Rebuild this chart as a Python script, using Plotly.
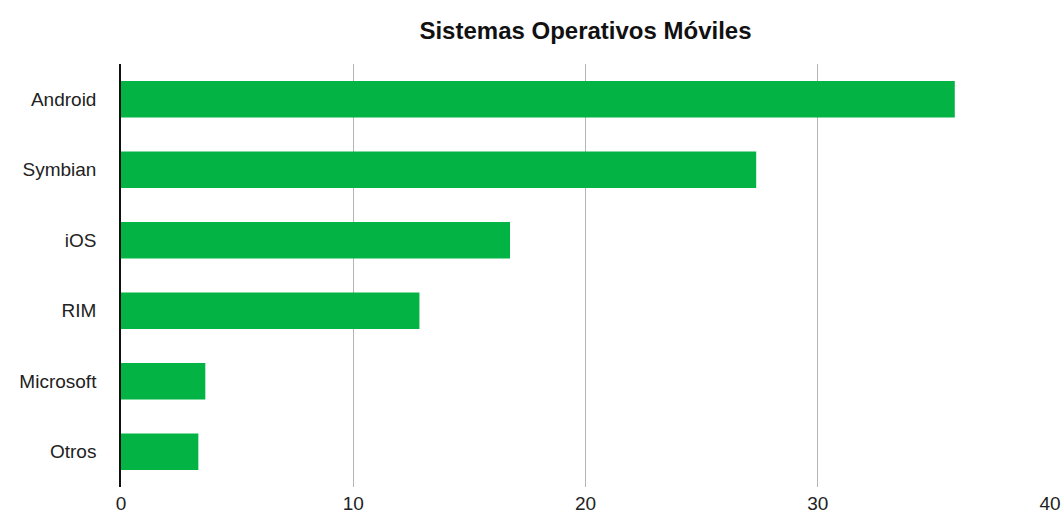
import plotly.graph_objects as go

categories = ["Android", "Symbian", "iOS", "RIM", "Microsoft", "Otros"]
values = [35.9, 27.35, 16.75, 12.85, 3.63, 3.33]
x_ticks = [0, 10, 20, 30, 40]

fig = go.Figure(go.Bar(
    x=values, y=categories, orientation="h",
    marker=dict(color="#03b343", line=dict(width=0)),
    width=0.52,
))

fig.update_layout(
    width=1062, height=514,
    margin=dict(l=121, r=12, t=64, b=27, autoexpand=False),
    plot_bgcolor="white", paper_bgcolor="white",
    font=dict(family="Liberation Sans, Arial, sans-serif", size=19, color="#222222"),
    title=dict(text="<b>Sistemas Operativos Móviles</b>", x=0.5, xref="paper",
               y=1 - 31 / 514, yref="container", yanchor="middle",
               font=dict(size=24, color="#111111")),
    showlegend=False,
    bargap=0.48,
)
fig.update_xaxes(range=[0, 40], tickvals=x_ticks, showgrid=True, gridcolor="#b5b5b5",
                 gridwidth=1.3, zeroline=False, showline=False, ticks="",
                 ticklabelstandoff=3, automargin=False)
fig.update_yaxes(categoryorder="array", categoryarray=categories[::-1],
                 showline=True, linecolor="#111111", linewidth=1.5,
                 showgrid=False, ticks="", ticklabelstandoff=19, automargin=False)

fig.write_html("out.html")
